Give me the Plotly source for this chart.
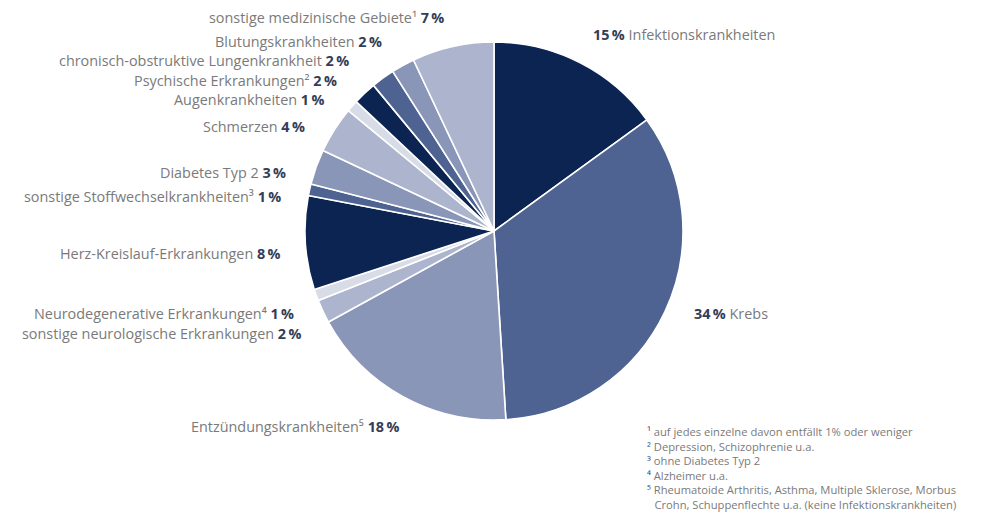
import plotly.graph_objects as go

W, H = 985, 529

categories = [
    "Infektionskrankheiten", "Krebs", "Entzündungskrankheiten",
    "sonstige neurologische Erkrankungen", "Neurodegenerative Erkrankungen",
    "Herz-Kreislauf-Erkrankungen", "sonstige Stoffwechselkrankheiten",
    "Diabetes Typ 2", "Schmerzen", "Augenkrankheiten", "Psychische Erkrankungen",
    "chronisch-obstruktive Lungenkrankheit", "Blutungskrankheiten",
    "sonstige medizinische Gebiete",
]
values = [15, 34, 18, 2, 1, 8, 1, 3, 4, 1, 2, 2, 2, 7]
footnote_marks = ["", "", "⁵", "", "⁴", "", "³", "", "", "", "²", "", "", "¹"]

footnotes = [
    ("¹", "auf jedes einzelne davon entfällt 1% oder weniger"),
    ("²", "Depression, Schizophrenie u.a."),
    ("³", "ohne Diabetes Typ 2"),
    ("⁴", "Alzheimer u.a."),
    ("⁵", "Rheumatoide Arthritis, Asthma, Multiple Sklerose, Morbus"),
    ("", "Crohn, Schuppenflechte u.a. (keine Infektionskrankheiten)"),
]

palette = ["#0c2452", "#4e6391", "#8a96b8", "#adb5ce", "#d8dce7"]
colors = [palette[i % 5] for i in range(len(values))]

# label layout: (x px, y px, side) side 'L' -> text ends at x, 'R' -> text starts at x
label_pos = [
    (592, 35, "R"), (693, 313, "R"), (400, 426, "L"),
    (302, 333, "L"), (295, 313, "L"), (282, 253, "L"), (282, 196, "L"),
    (287, 172, "L"), (306, 127, "L"), (325, 99, "L"), (338, 80, "L"),
    (350, 61, "L"), (383, 42, "L"), (445, 18, "L"),
]

cx, cy, r = 494, 231, 189

fig = go.Figure(go.Pie(
    labels=categories, values=values, sort=False, direction="clockwise",
    rotation=0, textinfo="none", hoverinfo="label+percent",
    marker=dict(colors=colors, line=dict(color="white", width=1.6)),
    domain=dict(x=[(cx - r) / W, (cx + r) / W], y=[(H - cy - r) / H, (H - cy + r) / H]),
    showlegend=False,
))

label_color = "#7a7a7a"
pct_color = "#333d57"
font_family = "Open Sans, Lato, sans-serif"

annotations = []
for name, val, mark, (x, y, side) in zip(categories, values, footnote_marks, label_pos):
    pct = f"<span style='color:{pct_color}'><b>{val}\u2009%</b></span>"
    if side == "L":
        text = f"{name}{mark} {pct}"
        xanchor = "right"
    else:
        text = f"{pct} {name}"
        xanchor = "left"
    annotations.append(dict(
        x=x / W, y=1 - y / H, xref="paper", yref="paper", text=text,
        showarrow=False, xanchor=xanchor, yanchor="middle", borderpad=0,
        font=dict(family=font_family, size=14.4, color=label_color),
    ))

lines = []
for mark, txt in footnotes:
    if mark:
        lines.append(f"<span style='color:#3a4f8a'>{mark}</span> {txt}")
    else:
        lines.append(f"\u2002\u2009{txt}")
annotations.append(dict(
    x=645 / W, y=1 - 422 / H, xref="paper", yref="paper",
    text="<br>".join(lines), showarrow=False, xanchor="left", yanchor="top",
    align="left", font=dict(family=font_family, size=11.2, color="#7a7a7a"),
))

fig.update_layout(
    width=W, height=H, margin=dict(l=0, r=0, t=0, b=0),
    paper_bgcolor="white", plot_bgcolor="white",
    annotations=annotations,
)

fig.write_html("out.html")
